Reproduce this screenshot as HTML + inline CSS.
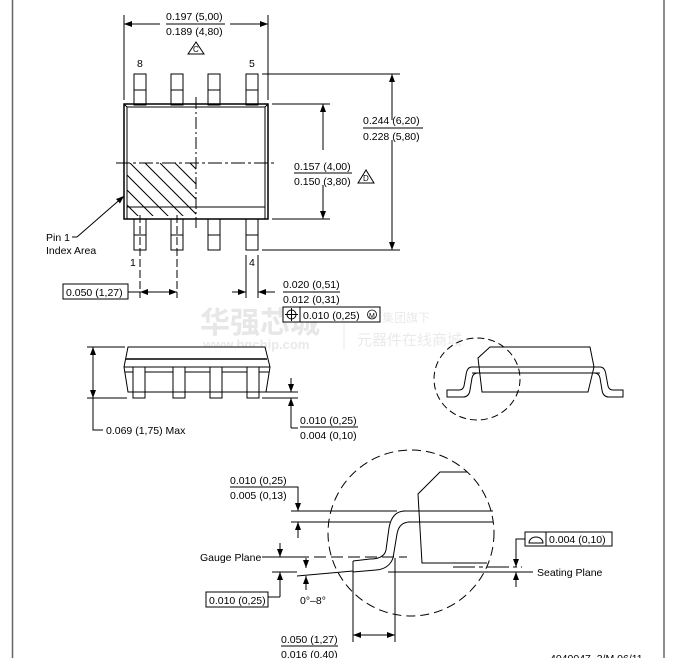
<!DOCTYPE html>
<html><head><meta charset="utf-8"><style>
html,body{margin:0;padding:0;background:#fff;width:673px;height:658px;overflow:hidden}
svg{display:block}
text{font-family:"Liberation Sans","Noto Sans CJK SC",sans-serif;font-size:10.5px;fill:#000}
</style></head><body>
<svg width="673" height="658" viewBox="0 0 673 658" xmlns="http://www.w3.org/2000/svg">
<defs>
<marker id="a" markerWidth="8" markerHeight="6" refX="8" refY="3" orient="auto" markerUnits="userSpaceOnUse"><path d="M0,0L8,3L0,6z" fill="#000"/></marker>
<clipPath id="hc"><rect x="127" y="163" width="69" height="53"/></clipPath>
</defs>
<g fill="#ddd" opacity="0.8">
<text x="200" y="333" style="font-size:30px;font-weight:bold;fill:#e2e2e2">华强芯城</text>
<text x="203" y="349" style="font-size:13px;font-weight:bold;fill:#e4e4e4">www.hqchip.com</text>
<line x1="344" y1="322" x2="344" y2="350" stroke="#e4e4e4"/>
<text x="382" y="322" style="font-size:12px;fill:#e6e6e6">集团旗下</text>
<text x="357" y="345" style="font-size:15px;fill:#e6e6e6">元器件在线商城</text>
</g>
<g stroke="#000" stroke-width="1" fill="none">
<line x1="12.5" y1="0" x2="12.5" y2="658" stroke="#666" stroke-width="1.5"/>
<line x1="664" y1="0" x2="664" y2="658" stroke="#666" stroke-width="1.5"/>

<!-- top view -->
<line x1="124" y1="15" x2="124" y2="100"/><line x1="268" y1="15" x2="268" y2="100"/>
<line x1="160" y1="24" x2="124" y2="24" marker-end="url(#a)"/><line x1="230" y1="24" x2="268" y2="24" marker-end="url(#a)"/>
<line x1="166" y1="24" x2="225" y2="24"/>
<path d="M188,54L196,42L204,54z"/>
<g id="tp"><rect x="134" y="74" width="12" height="31"/><line x1="134" y1="90" x2="146" y2="90"/></g>
<use href="#tp" x="37"/><use href="#tp" x="74"/><use href="#tp" x="112"/>
<rect x="124" y="104" width="144" height="115" stroke-width="1.5"/>
<path d="M124,104L127,107H265L268,104M127,107V219M265,107V219M127,207H265"/>
<g clip-path="url(#hc)">
<path d="M100,163L160,223M115,163L175,223M130,163L190,223M145,163L205,223M160,163L220,223M175,163L235,223M190,163L250,223M85,163L145,223M70,163L130,223"/>
</g>
<line x1="196" y1="97" x2="196" y2="228" stroke-dasharray="12,3,2,3"/>
<line x1="116" y1="163" x2="276" y2="163" stroke-dasharray="14,3,3,3"/>
<g id="bp"><rect x="134" y="219" width="12" height="31"/><line x1="134" y1="235" x2="146" y2="235"/></g>
<use href="#bp" x="37"/><use href="#bp" x="74"/><use href="#bp" x="112"/>
<line x1="140" y1="215" x2="140" y2="298" stroke-dasharray="8,3"/>
<line x1="177" y1="215" x2="177" y2="298" stroke-dasharray="8,3"/>
<line x1="246" y1="255" x2="246" y2="298"/><line x1="258" y1="255" x2="258" y2="298"/>
<line x1="77" y1="237" x2="124" y2="196" marker-end="url(#a)"/>
<line x1="72" y1="237" x2="77" y2="237"/>
<rect x="63" y="284" width="65" height="15"/>
<line x1="128" y1="292" x2="140" y2="292"/>
<line x1="158" y1="292" x2="140" y2="292" marker-end="url(#a)"/><line x1="158" y1="292" x2="177" y2="292" marker-end="url(#a)"/>
<line x1="232" y1="292" x2="246" y2="292" marker-end="url(#a)"/><line x1="275" y1="292" x2="258" y2="292" marker-end="url(#a)"/>
<line x1="283" y1="292" x2="340" y2="292"/>
<rect x="283" y="307" width="97" height="15" fill="#fff"/><line x1="300" y1="307" x2="300" y2="322"/>
<circle cx="291.5" cy="314.5" r="4.5"/><line x1="285" y1="314.5" x2="298" y2="314.5"/><line x1="291.5" y1="308" x2="291.5" y2="321"/>
<circle cx="372" cy="314.5" r="4.5" stroke-width="0.8"/>
<line x1="262" y1="74" x2="400" y2="74"/><line x1="262" y1="250" x2="400" y2="250"/>
<line x1="392" y1="120" x2="392" y2="74" marker-end="url(#a)"/><line x1="392" y1="140" x2="392" y2="250" marker-end="url(#a)"/>
<line x1="363" y1="128" x2="423" y2="128"/>
<line x1="272" y1="104" x2="330" y2="104"/><line x1="272" y1="219" x2="330" y2="219"/>
<line x1="323" y1="150" x2="323" y2="104" marker-end="url(#a)"/><line x1="323" y1="185" x2="323" y2="219" marker-end="url(#a)"/>
<line x1="294" y1="173" x2="352" y2="173"/>
<path d="M358,183L366,170L374,183z"/>

<!-- side view -->
<path d="M128,347H265L270,367L266,392H128L124,367z" fill="#fff"/>
<line x1="126" y1="359" x2="267" y2="359" stroke-width="1.5"/>
<line x1="124" y1="367" x2="270" y2="367"/><line x1="125" y1="372" x2="269" y2="372"/>
<g id="sp"><rect x="133" y="367" width="12" height="31" fill="#fff"/><line x1="133" y1="392" x2="145" y2="392"/></g>
<use href="#sp" x="40"/><use href="#sp" x="77"/><use href="#sp" x="114"/>
<line x1="87" y1="347" x2="125" y2="347"/><line x1="87" y1="398" x2="127" y2="398"/>
<line x1="93" y1="372" x2="93" y2="347" marker-end="url(#a)"/><line x1="93" y1="372" x2="93" y2="398" marker-end="url(#a)"/>
<path d="M93,398V430H103"/>
<line x1="266" y1="392" x2="298" y2="392"/><line x1="262" y1="398" x2="298" y2="398"/>
<line x1="291" y1="378" x2="291" y2="392" marker-end="url(#a)"/><line x1="291" y1="428" x2="291" y2="398" marker-end="url(#a)"/>
<line x1="291" y1="428" x2="298" y2="428"/>
<line x1="300" y1="427" x2="358" y2="427"/>

<!-- right side view -->
<ellipse cx="477" cy="379" rx="43" ry="41" stroke-dasharray="7,4"/>
<path d="M490,347H590L594,367L588,392H482L478,358z"/>
<line x1="472" y1="367" x2="600" y2="367"/><line x1="472" y1="373" x2="600" y2="373"/>
<path d="M472,367Q467,367 466,375L464,386Q463,390 459,390H447V397H463Q469,397 470,390L472,378Q473,373 478,373"/>
<path d="M600,367Q605,367 606,375L608,386Q609,390 613,390H623V397H609Q603,397 602,390L600,378Q599,373 594,373"/>

<!-- detail -->
<circle cx="411" cy="533" r="83" stroke-dasharray="9,5"/>
<path d="M467,472H440L418,494L422,563H487"/>
<line x1="291" y1="511" x2="397" y2="511"/><line x1="403" y1="511" x2="493" y2="511"/>
<line x1="291" y1="522" x2="390" y2="522"/><line x1="408" y1="522" x2="493" y2="522"/>
<path d="M405,511Q392,511 389,528L386,550Q384,559 370,559L353,561"/>
<path d="M410,522Q399,522 397,534L393,558Q389,569 376,570L353,572"/>
<line x1="353" y1="561" x2="353" y2="642"/>
<line x1="395" y1="558" x2="395" y2="642"/>
<line x1="375" y1="635" x2="353" y2="635" marker-end="url(#a)"/><line x1="375" y1="635" x2="395" y2="635" marker-end="url(#a)"/>
<line x1="281" y1="646" x2="338" y2="646"/>
<line x1="262" y1="557" x2="297" y2="557"/>
<line x1="297" y1="557" x2="407" y2="557" stroke-dasharray="12,5"/>
<line x1="272" y1="572" x2="297" y2="572"/>
<line x1="297" y1="576" x2="353" y2="571"/>
<line x1="388" y1="572" x2="533" y2="572"/>
<line x1="453" y1="567" x2="522" y2="567" stroke-dasharray="22,4,4,4"/>
<line x1="280" y1="543" x2="280" y2="557" marker-end="url(#a)"/>
<line x1="280" y1="597" x2="280" y2="572" marker-end="url(#a)"/>
<path d="M268,597H280"/>
<rect x="206" y="592" width="62" height="15"/>
<line x1="306" y1="558" x2="306" y2="568" marker-end="url(#a)"/>
<line x1="306" y1="590" x2="306" y2="576" marker-end="url(#a)"/>
<line x1="230" y1="487" x2="289" y2="487"/>
<path d="M289,487H298V511" marker-end="url(#a)"/>
<line x1="298" y1="538" x2="298" y2="522" marker-end="url(#a)"/>
<rect x="525" y="532" width="87" height="14"/><line x1="546" y1="532" x2="546" y2="546"/>
<path d="M529,543A7,6 0 0 1 543,543Z"/>
<path d="M525,539H516V567" marker-end="url(#a)"/>
<line x1="516" y1="587" x2="516" y2="572" marker-end="url(#a)"/>
</g>
<g>
<text x="166" y="20">0.197 (5,00)</text>
<text x="166" y="35">0.189 (4,80)</text>
<text x="193" y="52" style="font-size:8px">C</text>
<text x="137" y="67">8</text><text x="249" y="67">5</text>
<text x="46" y="241">Pin 1</text>
<text x="46" y="254">Index Area</text>
<text x="130" y="266">1</text><text x="249" y="266">4</text>
<text x="66" y="296">0.050 (1,27)</text>
<text x="283" y="288">0.020 (0,51)</text>
<text x="283" y="303">0.012 (0,31)</text>
<text x="303" y="319">0.010 (0,25)</text>
<text x="369" y="318" style="font-size:7px">M</text>
<text x="363" y="124">0.244 (6,20)</text>
<text x="363" y="140">0.228 (5,80)</text>
<text x="294" y="170">0.157 (4,00)</text>
<text x="294" y="185">0.150 (3,80)</text>
<text x="363" y="181" style="font-size:8px">D</text>
<text x="106" y="434">0.069 (1,75) Max</text>
<text x="300" y="424">0.010 (0,25)</text>
<text x="300" y="439">0.004 (0,10)</text>
<text x="230" y="484">0.010 (0,25)</text>
<text x="230" y="499">0.005 (0,13)</text>
<text x="200" y="561">Gauge Plane</text>
<text x="209" y="604">0.010 (0,25)</text>
<text x="300" y="604">0°–8°</text>
<text x="549" y="543">0.004 (0,10)</text>
<text x="537" y="576">Seating Plane</text>
<text x="281" y="643">0.050 (1,27)</text>
<text x="281" y="658">0.016 (0,40)</text>
<text x="550" y="662">4040047–3/M   06/11</text>
</g>
</svg>
</body></html>
